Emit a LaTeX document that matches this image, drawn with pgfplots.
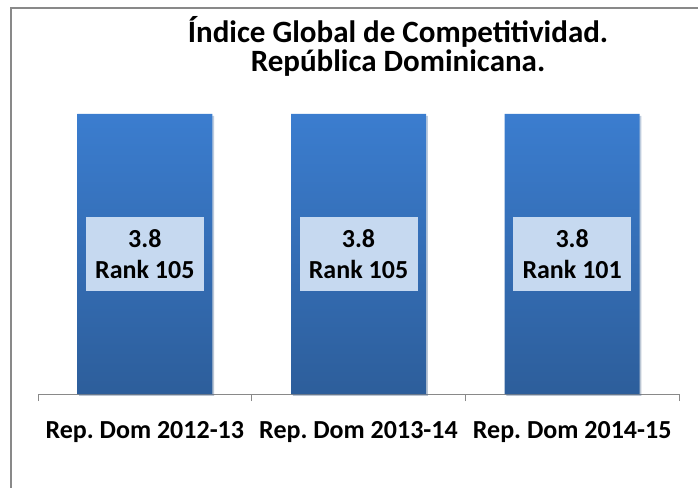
\documentclass[border=0pt]{standalone}
\usepackage{fontspec}
\setmainfont{Carlito}
\usepackage{pgfplots}
\usepackage{pgfplotstable}
\pgfplotsset{compat=1.18}
\usetikzlibrary{shadows}
\frenchspacing

\definecolor{bartop}{HTML}{3B7DCF}
\definecolor{barbot}{HTML}{2D5E9B}
\definecolor{boxfill}{HTML}{C6D9F0}
\definecolor{framegray}{HTML}{898989}

% index score and WEF rank per edition
\pgfplotstableread{
x y rank
0 3.8 105
1 3.8 105
2 3.8 101
}\gcidata

\begin{document}
\begin{tikzpicture}
\path[use as bounding box] (0pt,0pt) rectangle (698pt,487pt);
\draw[framegray, line width=1.3pt] (11pt,-5pt) -- (11pt,479pt) -- (705pt,479pt);
\node[font=\bfseries\fontsize{31}{29}\selectfont, anchor=base] at (398pt,444pt) {Índice Global de Competitividad.};
\node[font=\bfseries\fontsize{31}{29}\selectfont, anchor=base] at (398pt,415pt) {República Dominicana.};

\begin{axis}[
    at={(38pt,93pt)}, anchor=south west,
    scale only axis, width=641pt, height=280pt,
    xmin=-0.5, xmax=2.5, ymin=0, ymax=3.8,
    axis y line=none, axis x line*=bottom,
    x axis line style={-, framegray, line width=0.9pt},
    xtick={0,1,2},
    xticklabels={Rep. Dom 2012-13, Rep. Dom 2013-14, Rep. Dom 2014-15},
    major tick length=0pt,
    x tick label style={font=\bfseries\fontsize{26}{30}\selectfont, anchor=base, yshift=-44pt},
    extra x ticks={-0.5,0.5,1.5,2.5},
    extra x tick labels={},
    extra x tick style={major tick length=7pt, tick align=outside,
        tick style={framegray, line width=0.9pt}},
    /pgf/number format/assume math mode=true,
    clip=false]
\addplot[ybar, bar width=135pt, bar shift=0pt, draw=none,
    top color=bartop, bottom color=barbot,
    drop shadow={opacity=0.22, shadow xshift=1.8pt, shadow yshift=-1.8pt}]
    table[x=x, y=y] {\gcidata};
\addplot[ybar, bar width=135pt, bar shift=0pt, draw=none, fill=none,
    visualization depends on={\thisrow{rank} \as \rankval},
    nodes near coords={\pgfmathprintnumber[fixed, precision=1]{\pgfplotspointmeta}\\Rank \pgfmathprintnumber{\rankval}},
    every node near coord/.append style={fill=boxfill, text=black, align=center,
        font=\bfseries\fontsize{26}{31}\selectfont,
        minimum width=118pt, minimum height=74pt, inner sep=0pt,
        anchor=center, yshift=-140pt}]
    table[x=x, y=y] {\gcidata};
\end{axis}
\end{tikzpicture}
\end{document}
